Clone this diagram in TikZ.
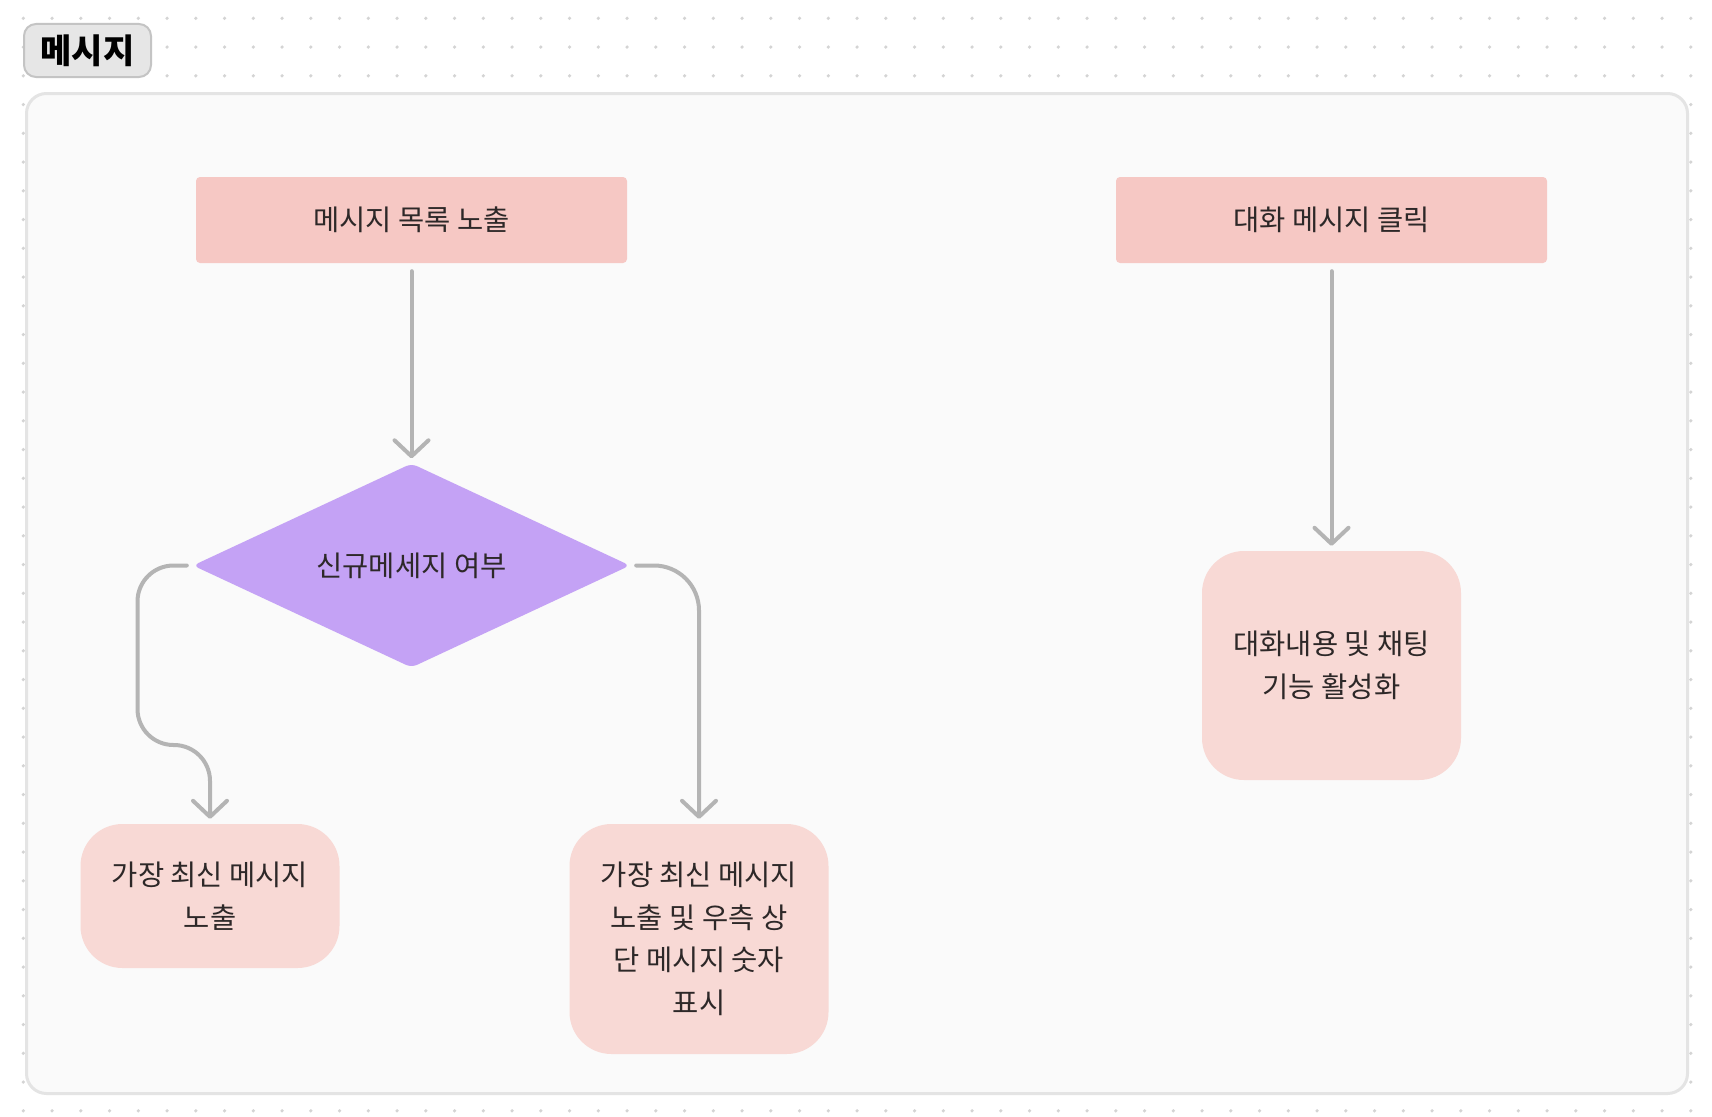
\documentclass[tikz,border=0pt]{standalone}
\usepackage{fontspec}
\setmainfont{Noto Sans CJK KR}
\usepackage{xcolor}
\usetikzlibrary{shapes.geometric, arrows.meta}

\definecolor{dotgrey}{RGB}{212,212,212}
\definecolor{panelfill}{RGB}{250,250,250}
\definecolor{panelline}{RGB}{228,228,228}
\definecolor{tagfill}{RGB}{230,230,230}
\definecolor{tagline}{RGB}{196,196,196}
\definecolor{boxpink}{RGB}{246,200,196}
\definecolor{endpink}{RGB}{248,217,213}
\definecolor{decpurple}{RGB}{196,162,245}
\definecolor{flowgrey}{RGB}{180,180,180}
\definecolor{inkgrey}{RGB}{45,40,40}

\begin{document}
\begin{tikzpicture}[x=1pt, y=-1pt,
  txt/.style={font=\fontsize{28.5}{42.5}\selectfont, text=inkgrey, align=center, inner sep=0pt},
  topbox/.style={txt, rectangle, rounded corners=4pt, fill=boxpink, minimum width=431pt, minimum height=86pt},
  endbox/.style={txt, rectangle, rounded corners=42pt, fill=endpink, minimum width=259pt},
  decision/.style={txt, diamond, aspect=2.14, rounded corners=6pt, fill=decpurple, minimum width=437pt, minimum height=204pt},
  flow/.style={draw=flowgrey, line width=4pt, line cap=round, line join=round,
    -{Straight Barb[length=16pt, width=34pt, round]}, shorten >=5pt, shorten <=6pt}]
  \useasboundingbox (0,0) rectangle (1712,1116);
  \fill[white] (0,0) rectangle (1712,1116);

  % Draw the dotted background
  \foreach \i in {0,...,58}
    \foreach \j in {0,...,38}
      \fill[dotgrey] (23.3+28.75*\i, 18.3+28.75*\j) circle (1.8pt);

  % Draw the panel and its tag
  \draw[panelline, fill=panelfill, line width=3pt, rounded corners=20pt] (26.5,93.5) rectangle (1687.5,1093.5);
  \node[draw=tagline, fill=tagfill, line width=2pt, rounded corners=12pt, minimum width=127pt, minimum height=53pt,
    font=\fontsize{34}{35}\selectfont\bfseries] (tag) at (87.5,50.5) {메시지};

  % Left flow: list, decision and its two outcomes
  \node[topbox] (msglist) at (411.5,220) {메시지 목록 노출};
  \node[decision] (newmsg) at (411.5,565.5) {신규메세지 여부};
  \node[endbox, minimum height=144pt] (latest) at (210,896) {가장 최신 메시지\\노출};
  \node[endbox, minimum height=230pt] (badge) at (699,939) {가장 최신 메시지\\노출 및 우측 상\\단 메시지 숫자\\표시};
  \coordinate (leftbend) at (137.5,745);

  % Right flow: click and chat view
  \node[topbox] (chatclick) at (1331.5,220) {대화 메시지 클릭};
  \node[endbox, minimum height=229pt] (chatview) at (1331.5,665.5) {대화내용 및 채팅\\기능 활성화};

  % Draw the connectors
  \draw[flow, shorten <=8pt] (msglist) -- (newmsg.north);
  \draw[flow, rounded corners=36pt] (newmsg.west) -| (leftbend) -| (latest.north);
  \draw[flow, rounded corners=45pt] (newmsg.east) -| (badge.north);
  \draw[flow, shorten <=8pt] (chatclick) -- (chatview);
\end{tikzpicture}
\end{document}
